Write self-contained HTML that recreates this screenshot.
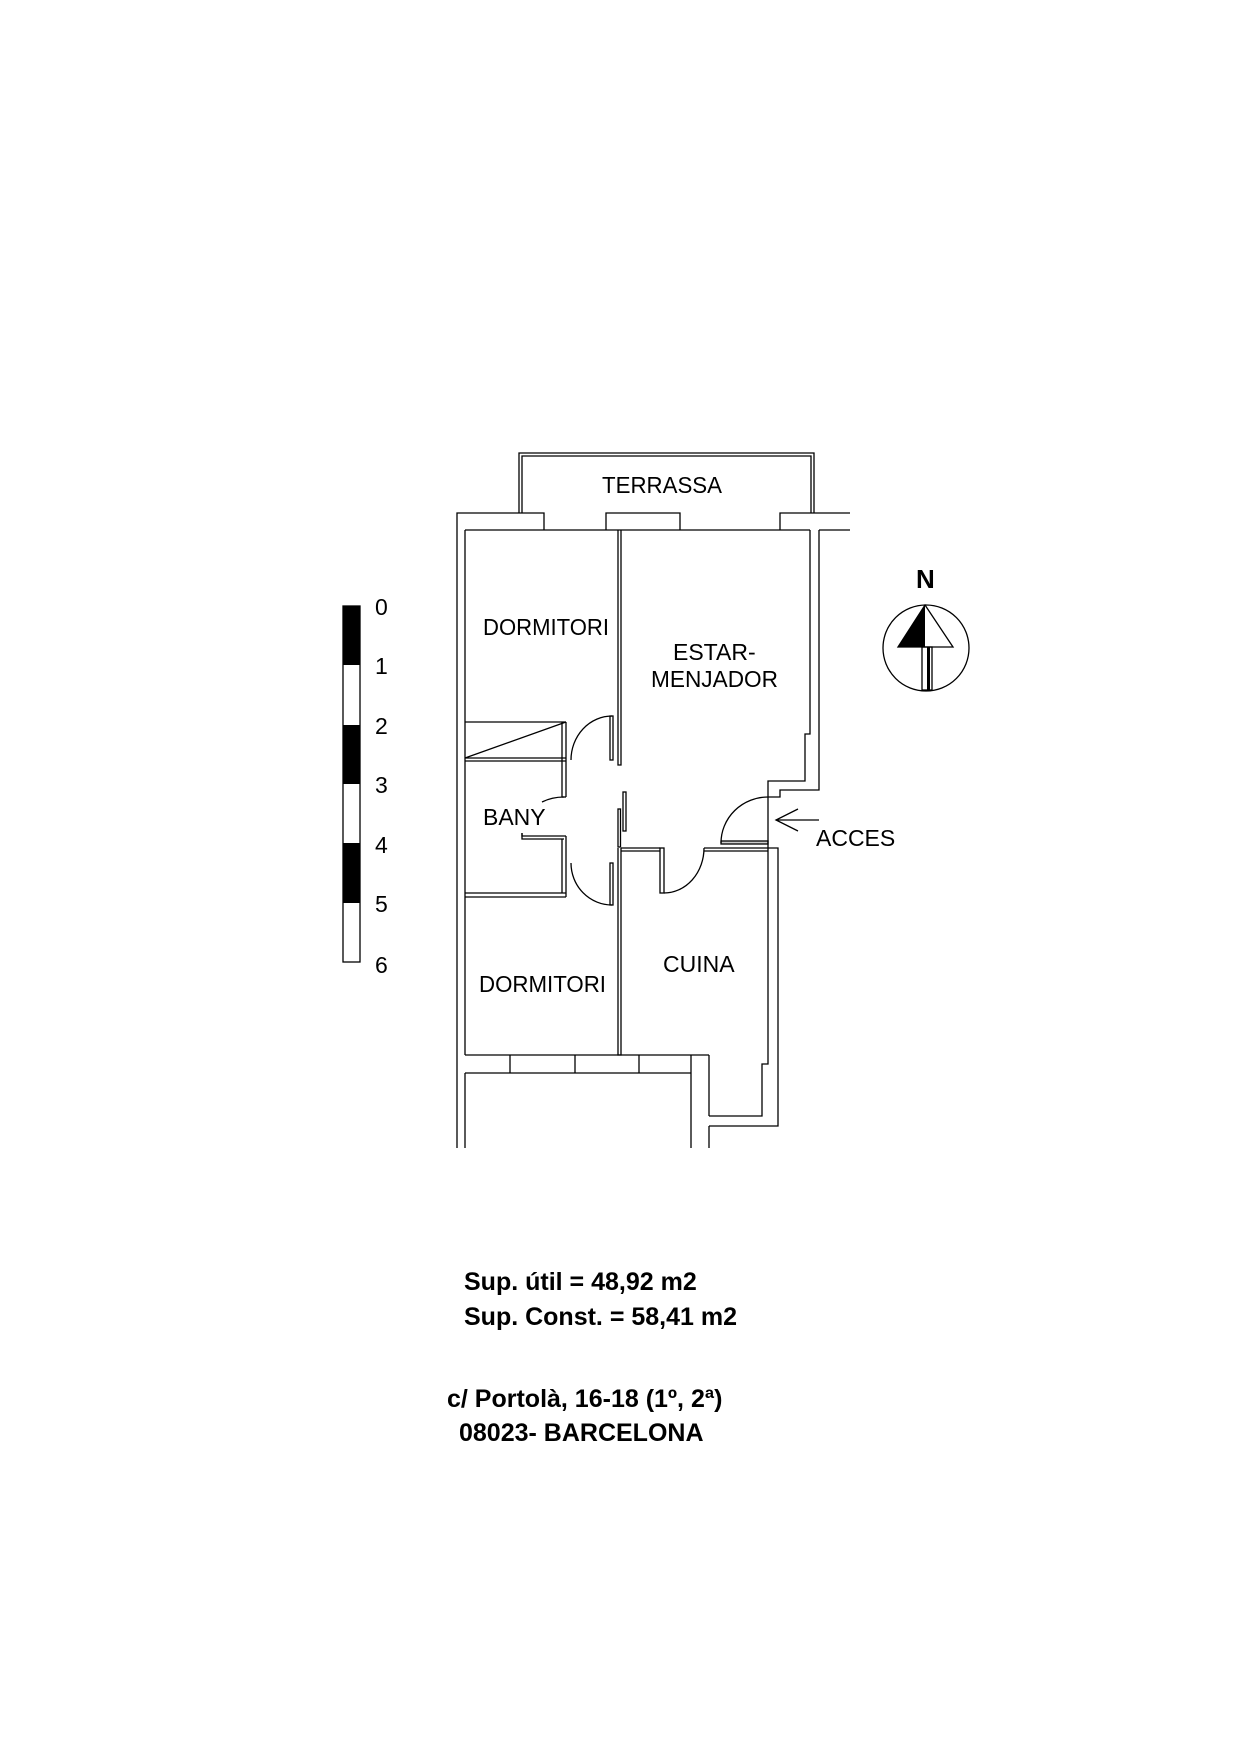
<!DOCTYPE html>
<html><head><meta charset="utf-8"><style>
html,body{margin:0;padding:0;background:#fff}
svg{display:block}
text{font-family:"Liberation Sans",Arial,sans-serif;fill:#000}
</style></head><body>
<svg width="1241" height="1755" viewBox="0 0 1241 1755" xmlns="http://www.w3.org/2000/svg">
<g fill="none" stroke="#000" stroke-width="1.3">
<!-- terrace -->
<polyline points="519,513 519,453 814,453 814,513"/>
<polyline points="522,513 522,456 811,456 811,513"/>
<!-- outer top wall -->
<polyline points="457,1148 457,513 544,513 544,530"/>
<polyline points="606,530 606,513 680,513 680,530"/>
<polyline points="850,513 780,513 780,530"/>
<line x1="465" y1="530" x2="810" y2="530"/>
<line x1="819" y1="530" x2="850" y2="530"/>
<!-- right wall -->
<polyline points="810,530 810,734 805,734 805,781 768,781 768,797 780,797 780,790 819,790 819,530"/>
<!-- left inner wall -->
<line x1="465" y1="530" x2="465" y2="1055"/>
<line x1="465" y1="1073" x2="465" y2="1148"/>
<!-- divider dormitori/estar -->
<polyline points="618,530 618,765 621,765 621,530"/>
<!-- closet -->
<line x1="465" y1="722" x2="566" y2="722"/>
<line x1="465" y1="758" x2="566" y2="758"/>
<line x1="465" y1="761" x2="566" y2="761"/>
<line x1="465" y1="758" x2="566" y2="722"/>
<line x1="562" y1="722" x2="562" y2="797"/>
<line x1="566" y1="722" x2="566" y2="797"/>
<line x1="562" y1="797" x2="566" y2="797"/>
<!-- door 1 -->
<rect x="610" y="716" width="3" height="44"/>
<path d="M571,760 A41,44 0 0 1 612,716"/>
<!-- bany door small arc -->
<path d="M542,802 Q552,797 564,797"/>
<!-- bany wall -->
<polyline points="522,833 522,839 564,839"/>
<polyline points="522,833 522,836 566,836"/>
<line x1="562" y1="839" x2="562" y2="893"/>
<line x1="566" y1="836" x2="566" y2="897"/>
<line x1="465" y1="893" x2="566" y2="893"/>
<line x1="465" y1="897" x2="566" y2="897"/>
<!-- door 2 -->
<rect x="610" y="863" width="3" height="42"/>
<path d="M571,863 A41,42 0 0 0 612,905"/>
<!-- sliding door -->
<rect x="623" y="792" width="3" height="39"/>
<rect x="618" y="809" width="2.5" height="38"/>
<!-- lower divider -->
<polyline points="618,848 618,1055 621,1055 621,848"/>
<!-- wall estar/cuina -->
<line x1="621" y1="848" x2="660" y2="848"/>
<line x1="621" y1="851" x2="660" y2="851"/>
<rect x="660" y="848" width="4" height="45"/>
<path d="M664,893 A40,45 0 0 0 704,848"/>
<line x1="704" y1="848" x2="768" y2="848"/>
<line x1="704" y1="851" x2="768" y2="851"/>
<rect x="721" y="841" width="47" height="3" fill="#ccc"/>
<!-- entrance door -->
<path d="M721,843 A47,46 0 0 1 768,797"/>
<polyline points="768,797 768,1064 762,1064 762,1116 709,1116"/>
<polyline points="768,848 778,848 778,1126 709,1126"/>
<!-- bottom wall -->
<line x1="465" y1="1055" x2="709" y2="1055"/>
<line x1="465" y1="1073" x2="691" y2="1073"/>
<line x1="510" y1="1055" x2="510" y2="1073"/>
<line x1="575" y1="1055" x2="575" y2="1073"/>
<line x1="639" y1="1055" x2="639" y2="1073"/>
<line x1="691" y1="1055" x2="691" y2="1148"/>
<line x1="709" y1="1055" x2="709" y2="1116"/>
<line x1="709" y1="1126" x2="709" y2="1148"/>
<!-- arrow -->
<line x1="819" y1="820" x2="776" y2="820"/>
<polyline points="798,809 776,820 798,831"/>
<!-- scale bar -->
<rect x="343" y="606" width="17" height="356"/>
<!-- north -->
<circle cx="926" cy="648" r="43"/>
<polygon points="925,605 953,647 898,647"/>
<rect x="922" y="647" width="10" height="43"/>
</g>
<g fill="#000">
<rect x="343" y="606" width="17" height="59"/>
<rect x="343" y="725" width="17" height="59"/>
<rect x="343" y="843" width="17" height="60"/>
<polygon points="925,605 925,647 898,647"/>
<rect x="927" y="647" width="3" height="43"/>
</g>
<g font-size="23">
<text x="602" y="493" textLength="120" lengthAdjust="spacingAndGlyphs">TERRASSA</text>
<text x="483" y="635" textLength="126" lengthAdjust="spacingAndGlyphs">DORMITORI</text>
<text x="673" y="660">ESTAR-</text>
<text x="651" y="687" textLength="127" lengthAdjust="spacingAndGlyphs">MENJADOR</text>
<text x="483" y="825">BANY</text>
<text x="816" y="846">ACCES</text>
<text x="663" y="972">CUINA</text>
<text x="479" y="992" textLength="127" lengthAdjust="spacingAndGlyphs">DORMITORI</text>
<text x="375" y="615">0</text>
<text x="375" y="674">1</text>
<text x="375" y="734">2</text>
<text x="375" y="793">3</text>
<text x="375" y="853">4</text>
<text x="375" y="912">5</text>
<text x="375" y="973">6</text>
</g>
<text x="916" y="588" font-size="26" font-weight="bold">N</text>
<g font-size="25" font-weight="bold">
<text x="464" y="1290">Sup. útil = 48,92 m2</text>
<text x="464" y="1325">Sup. Const. = 58,41 m2</text>
<text x="447" y="1407">c/ Portolà, 16-18 (1º, 2ª)</text>
<text x="459" y="1441">08023- BARCELONA</text>
</g>
</svg>
</body></html>
